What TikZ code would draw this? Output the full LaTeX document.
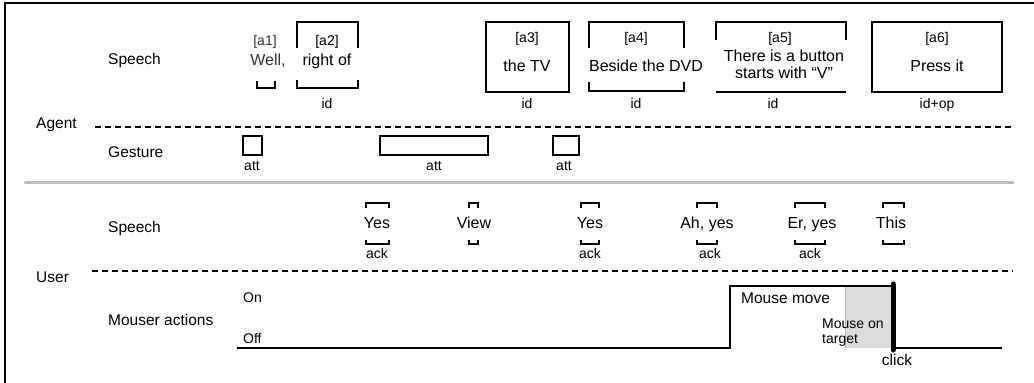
\documentclass[tikz,border=0pt]{standalone}
\usepackage{fontspec}
\setmainfont{Liberation Sans}

\begin{document}
\begin{tikzpicture}[line join=miter,x=1pt,y=-1pt,
		every node/.style={inner sep=0pt,anchor=base},
		lbl/.style={font=\fontsize{15.5}{18}\selectfont},
		utt/.style={font=\fontsize{16}{17}\selectfont},
		tag/.style={font=\fontsize{14}{15}\selectfont},
		brk/.style={line width=1.3pt},
		trenn/.style={line width=1.7pt,dash pattern=on 6pt off 4pt}]
		\useasboundingbox (0,0) rectangle (1034,383);

		% Rahmen
		\draw[line width=1.6pt] (5,383) -- (5,3) -- (1034,3);

		% Zeilen
		\node[lbl,anchor=base west] (agspeech) at (108,64) {Speech};
		\node[lbl,anchor=base west] (agent) at (36,128) {Agent};
		\node[lbl,anchor=base west] (gesture) at (108,157) {Gesture};
		\node[lbl,anchor=base west] (usspeech) at (108,232) {Speech};
		\node[lbl,anchor=base west] (user) at (36,282) {User};
		\node[lbl,anchor=base west] (mouse) at (108,325) {Mouser actions};
		\draw[trenn] (95,127) -- (1013,127);
		\draw[line width=3pt,gray!50,line cap=round] (25,182) -- (1013,182);
		\draw[trenn] (92,271) -- (1013,271);

		% Agent: Sprache
		\node[tag,black!80] (a1) at (265,45) {[a1]};
		\node[utt,black!80] (a1t) at (268,65) {Well,};
		\draw[brk] (257,81) -- (257,88) -- (275,88) -- (275,81);

		\draw[brk] (297,48) -- (297,22) -- (358,22) -- (358,48);
		\node[tag] (a2) at (327,45) {[a2]};
		\node[utt] (a2t) at (327,65) {right of};
		\draw[brk] (297,80) -- (297,88) -- (358,88) -- (358,80);
		\node[tag] (id2) at (327,108) {id};

		\draw[brk] (486,22) rectangle (569,92);
		\node[tag] (a3) at (527,42) {[a3]};
		\node[utt] (a3t) at (527,71) {the TV};
		\node[tag] (id3) at (527,108) {id};

		\draw[brk] (589,48) -- (589,22) -- (684,22) -- (684,48);
		\node[tag] (a4) at (636,42) {[a4]};
		\node[utt] (a4t) at (646,71) {Beside the DVD};
		\draw[brk] (589,82) -- (589,91) -- (684,91) -- (684,82);
		\node[tag] (id4) at (636,108) {id};

		\draw[brk] (716,40) -- (716,22) -- (846,22) -- (846,40);
		\node[tag] (a5) at (780,42) {[a5]};
		\node[utt,align=center,anchor=north] (a5t) at (784,50) {There is a button\\starts with “V”};
		\draw[brk] (716,92) -- (846,92);
		\node[tag] (id5) at (773,108) {id};

		\draw[brk] (872,22) rectangle (1002,92);
		\node[tag] (a6) at (937,42) {[a6]};
		\node[utt] (a6t) at (937,71) {Press it};
		\node[tag] (id6) at (937,108) {id+op};

		% Agent: Gesten
		\draw[brk] (243,136) rectangle (262,155);
		\node[tag] (g1) at (252,170) {att};
		\draw[brk] (380,136) rectangle (488,155);
		\node[tag] (g2) at (434,170) {att};
		\draw[brk] (553,136) rectangle (579,155);
		\node[tag] (g3) at (564,170) {att};

		% User: Sprache
		\draw[brk] (366,208) -- (366,203) -- (389,203) -- (389,208);
		\node[utt] (u1) at (377,228) {Yes};
		\draw[brk] (366,240) -- (366,244) -- (389,244) -- (389,240);
		\node[tag] (k1) at (377,258) {ack};

		\draw[brk] (469,208) -- (469,203) -- (478,203) -- (478,208);
		\node[utt] (u2) at (474,228) {View};
		\draw[brk] (469,240) -- (469,244) -- (478,244) -- (478,240);

		\draw[brk] (581,208) -- (581,203) -- (599,203) -- (599,208);
		\node[utt] (u3) at (590,228) {Yes};
		\draw[brk] (581,240) -- (581,244) -- (599,244) -- (599,240);
		\node[tag] (k3) at (590,258) {ack};

		\draw[brk] (697,208) -- (697,203) -- (717,203) -- (717,208);
		\node[utt] (u4) at (707,228) {Ah, yes};
		\draw[brk] (697,240) -- (697,244) -- (717,244) -- (717,240);
		\node[tag] (k4) at (710,258) {ack};

		\draw[brk] (795,208) -- (795,203) -- (825,203) -- (825,208);
		\node[utt] (u5) at (812,228) {Er, yes};
		\draw[brk] (795,240) -- (795,244) -- (825,244) -- (825,240);
		\node[tag] (k5) at (810,258) {ack};

		\draw[brk] (883,208) -- (883,203) -- (904,203) -- (904,208);
		\node[utt] (u6) at (891,228) {This};
		\draw[brk] (883,240) -- (883,244) -- (904,244) -- (904,240);

		% User: Maus
		\node[tag,anchor=base west] (on) at (243,302) {On};
		\node[tag,anchor=base west] (off) at (243,343) {Off};
		\fill[gray!27] (845,287) rectangle (893,348);
		\draw[gray!55,line width=0.8pt] (845,287) -- (845,348);
		\draw[line width=1.6pt] (237,348) -- (730,348) -- (730,286) -- (893,286);
		\draw[line width=1.6pt] (893,348) -- (1002,348);
		\draw[line width=5pt,line cap=round] (893,284) -- (893,350);
		\node[lbl,anchor=base west] (move) at (741,303) {Mouse move};
		\node[tag,anchor=base west] (target) at (822,328) {Mouse on};
		\node[tag,anchor=base west] (target2) at (822,343) {target};
		\node[lbl] (click) at (897,365) {click};
	\end{tikzpicture}
\end{document}
